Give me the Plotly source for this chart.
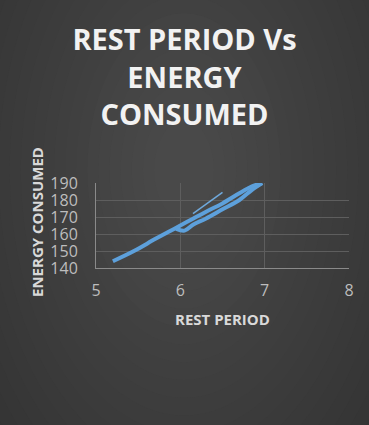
import plotly.graph_objects as go

# Data
rest_upper = [5.2, 5.45, 5.7, 5.85, 6.0, 6.15, 6.3, 6.5, 6.7, 6.85, 6.97]
energy_upper = [144, 150, 157, 161, 165, 169, 173, 178, 184, 188, 190]
rest_lower = [5.95, 6.05, 6.15, 6.3, 6.5, 6.7, 6.85, 6.97]
energy_lower = [163, 162, 165.5, 169, 174.5, 180, 186, 190]
rest_thin = [6.15, 6.5]
energy_thin = [172, 184.5]

W, H = 369, 425
l, r, t, b = 96, 20, 183, 157
pw, ph = W - l - r, H - t - b


def px(xp):
    return (xp - l) / pw


def py(yp):
    return (H - b - yp) / ph


fig = go.Figure()
blue = "#5da0db"
fig.add_trace(go.Scatter(x=rest_lower, y=energy_lower, mode="lines",
                         line=dict(color=blue, width=4, shape="spline"), showlegend=False))
fig.add_trace(go.Scatter(x=rest_upper, y=energy_upper, mode="lines",
                         line=dict(color=blue, width=4, shape="spline"), showlegend=False))
fig.add_trace(go.Scatter(x=rest_thin, y=energy_thin, mode="lines",
                         line=dict(color="#6fa9dc", width=1.5), showlegend=False))

# radial background gradient approximation
shapes = []
n = 28
cx, cy = 184, 170
for i in range(n):
    f = i / (n - 1)
    c = int(round(0x2c + (0x49 - 0x2c) * f))
    col = f"rgb({c},{c},{c})"
    rx = 300 * (1 - f) + 30
    ry = 480 * (1 - f) + 50
    shapes.append(dict(type="circle", xref="paper", yref="paper", layer="below",
                       x0=px(cx - rx), x1=px(cx + rx), y0=py(cy + ry), y1=py(cy - ry),
                       line=dict(width=0), fillcolor=col))

fig.update_layout(
    width=W, height=H,
    margin=dict(l=l, r=r, t=t, b=b),
    paper_bgcolor="#2b2b2b", plot_bgcolor="rgba(0,0,0,0)",
    shapes=shapes,
    title=dict(text="<b>REST PERIOD Vs</b><br><b>ENERGY</b><br><b>CONSUMED</b>",
               x=0.5, xanchor="center", xref="container",
               y=1 - 50 / H, yanchor="top", yref="container",
               font=dict(family="Open Sans", size=29, color="#f2f2f2")),
    xaxis=dict(range=[5, 8], dtick=1, tick0=5, showgrid=True, gridcolor="#5e5e5e", gridwidth=1,
               showline=True, linecolor="#8a8a8a", zeroline=False,
               tickfont=dict(family="Open Sans", size=16, color="#bdbdbd"), ticklabelstandoff=8),
    yaxis=dict(range=[140, 190], dtick=10, tick0=140, showgrid=True, gridcolor="#5e5e5e", gridwidth=1,
               showline=True, linecolor="#8a8a8a", zeroline=False,
               tickfont=dict(family="Open Sans", size=16, color="#bdbdbd"), ticklabelstandoff=14),
)

ann = [
    dict(text="<b>REST PERIOD</b>", x=px(222), y=py(319), xref="paper", yref="paper",
         showarrow=False, xanchor="center", yanchor="middle",
         font=dict(family="Open Sans", size=15, color="#d9d9d9")),
    dict(text="<b>ENERGY CONSUMED</b>", x=px(37), y=py(222), xref="paper", yref="paper",
         showarrow=False, xanchor="center", yanchor="middle", textangle=-90,
         font=dict(family="Open Sans", size=15, color="#d9d9d9")),
]
fig.update_layout(annotations=ann)

fig.write_html("out.html", config={"displayModeBar": False})
